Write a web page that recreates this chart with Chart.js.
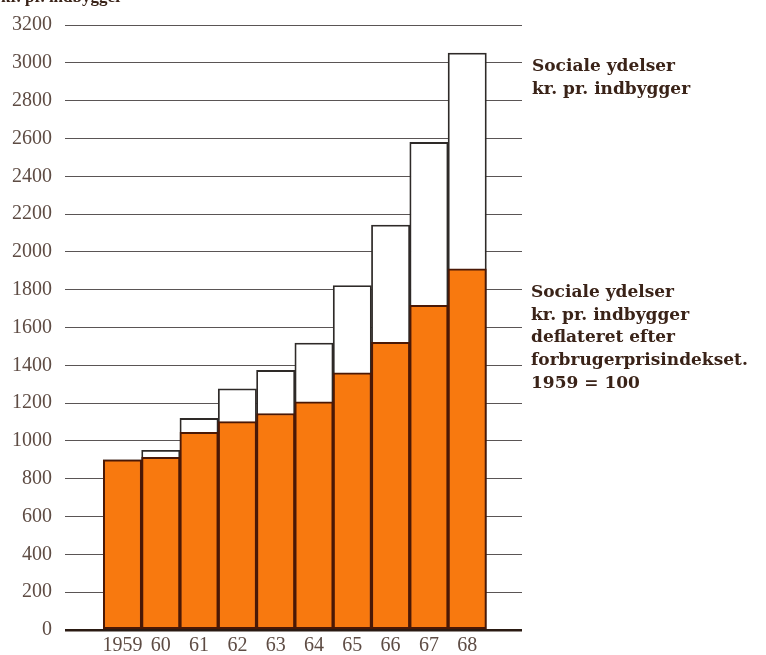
<!DOCTYPE html>
<html>
<head>
<meta charset="utf-8">
<script src="https://cdn.jsdelivr.net/npm/chart.js@4/dist/chart.umd.min.js"></script>
<style>
  html, body { margin: 0; padding: 0; background: #fff; }
  #wrap { position: relative; width: 766px; height: 655px; overflow: hidden; }
  canvas { position: absolute; left: 0; top: 0; }
  .lbl { position: absolute; font-family: "DejaVu Serif", "Liberation Serif", serif; font-weight: bold;
         font-size: 17px; line-height: 23px; color: #3a2318; white-space: nowrap; }
  .ttl { position: absolute; font-family: "Liberation Serif", "DejaVu Serif", serif; font-weight: bold;
         font-size: 17px; line-height: 23px; color: #3a2318; white-space: nowrap; }
</style>
</head>
<body>
<div id="wrap">
  <canvas id="c" width="766" height="655"></canvas>
  <div class="ttl" style="left:1px; top:-15px;">kr. pr. indbygger</div>
  <div class="lbl" style="left:532px; top:54px;">Sociale ydelser<br>kr. pr. indbygger</div>
  <div class="lbl" style="left:531px; top:280px; line-height:22.7px;">Sociale ydelser<br>kr. pr. indbygger<br>deflateret efter<br>forbrugerprisindekset.<br>1959 = 100</div>
</div>
<script>
const years = [1959, 1960, 1961, 1962, 1963, 1964, 1965, 1966, 1967, 1968];
const yearLabels = ['1959', '60', '61', '62', '63', '64', '65', '66', '67', '68'];
const nominal = [900, 950, 1119, 1276, 1373, 1518, 1822, 2142, 2579, 3052];
const deflated = [900, 913, 1045, 1102, 1145, 1207, 1360, 1521, 1717, 1910];
const yTicks = [0, 200, 400, 600, 800, 1000, 1200, 1400, 1600, 1800, 2000, 2200, 2400, 2600, 2800, 3000, 3200];

const tickFont = { family: '"Liberation Serif", "DejaVu Serif", serif', size: 20 };
const tickColor = '#5e4c44';

new Chart(document.getElementById('c'), {
  type: 'bar',
  data: {
    datasets: [
      {
        label: 'Sociale ydelser kr. pr. indbygger deflateret efter forbrugerprisindekset. 1959 = 100',
        data: years.map((y, i) => ({ x: y, y: deflated[i] })),
        backgroundColor: '#f8790f',
        borderColor: '#4a1806',
        borderWidth: 2,
        borderSkipped: false,
        order: 0
      },
      {
        label: 'Sociale ydelser kr. pr. indbygger',
        data: years.map((y, i) => ({ x: y, y: nominal[i] })),
        backgroundColor: '#ffffff',
        borderColor: '#2e2a28',
        borderWidth: 1.8,
        borderSkipped: false,
        order: 1
      }
    ]
  },
  options: {
    responsive: false,
    animation: false,
    devicePixelRatio: 1,
    layout: { padding: { top: 20, right: 244, bottom: 0, left: 0 } },
    plugins: { legend: { display: false }, tooltip: { enabled: false } },
    datasets: { bar: { grouped: false, barPercentage: 1, categoryPercentage: 1 } },
    scales: {
      x: {
        type: 'linear',
        offset: false,
        min: 1957.5,
        max: 1969.43,
        grid: { display: false, drawTicks: false },
        border: { display: false },
        afterFit: s => { s.height = 25; },
        afterBuildTicks: s => { s.ticks = years.map(v => ({ value: v })); },
        ticks: {
          autoSkip: false,
          maxRotation: 0,
          padding: 4,
          color: tickColor,
          font: tickFont,
          callback: (v) => {
            const i = years.indexOf(v);
            return i >= 0 ? yearLabels[i] : '';
          }
        }
      },
      y: {
        min: 0,
        max: 3200,
        afterFit: s => { s.width = 65; },
        afterBuildTicks: s => { s.ticks = yTicks.map(v => ({ value: v })); },
        border: { display: false },
        grid: {
          drawTicks: false,
          color: ctx => (ctx.tick && ctx.tick.value === 0) ? '#2a1a12' : '#5a5555',
          lineWidth: ctx => (ctx.tick && ctx.tick.value === 0) ? 2.5 : 1
        },
        ticks: {
          padding: 13,
          color: tickColor,
          font: tickFont,
          callback: v => String(v)
        }
      }
    }
  }
});
</script>
</body>
</html>
